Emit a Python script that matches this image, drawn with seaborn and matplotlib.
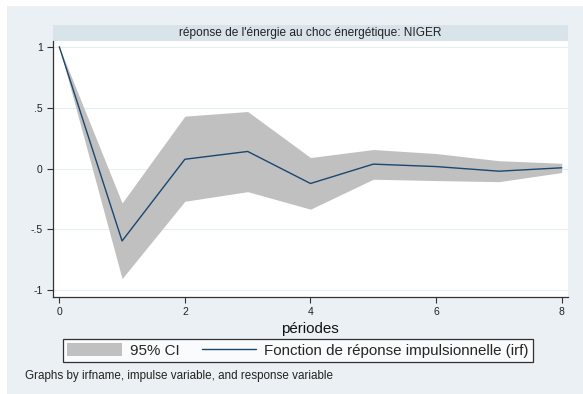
import matplotlib
matplotlib.use("Agg")
import matplotlib.pyplot as plt
from matplotlib.patches import Rectangle, Patch
from matplotlib.lines import Line2D
import seaborn as sns
import pandas as pd

# Impulse response of energy to an energy shock (Niger), with 95% CI
periods = [0, 1, 2, 3, 4, 5, 6, 7, 8]
irf = [1.0, -0.595, 0.076, 0.14, -0.123, 0.036, 0.016, -0.022, 0.006]
ci_lower = [1.0, -0.904, -0.269, -0.19, -0.334, -0.088, -0.099, -0.108, -0.033]
ci_upper = [1.0, -0.283, 0.43, 0.468, 0.090, 0.156, 0.123, 0.064, 0.043]
y_ticks = [-1, -0.5, 0, 0.5, 1]
y_tick_labels = ["-1", "-.5", "0", ".5", "1"]
x_ticks = [0, 2, 4, 6, 8]

title = "réponse de l'énergie au choc énergétique: NIGER"
x_label = "périodes"
legend_labels = ["95% CI", "Fonction de réponse impulsionnelle (irf)"]
note = "Graphs by irfname, impulse variable, and response variable"

df = pd.DataFrame({"step": periods, "irf": irf, "lo": ci_lower, "hi": ci_upper})

sns.set_theme(style="white")
plt.rcParams["font.family"] = ["Liberation Sans", "DejaVu Sans"]

W, H = 583, 394
fig = plt.figure(figsize=(W / 100, H / 100), dpi=100)
fig.patch.set_facecolor("white")

BG = "#eaf0f3"
STRIP = "#d9e3ea"
BAND = "#c0c0c0"
NAVY = "#1a476f"


def fx(px):
    return px / W


def fy(py):
    return 1 - py / H


# graph region background
fig.add_artist(Rectangle((fx(7), 0), 1 - fx(7), fy(6), transform=fig.transFigure,
                         facecolor=BG, edgecolor="none", zorder=-2))

left, right, top, bottom = 52.5, 568.3, 41, 297
ax = fig.add_axes([fx(left), fy(bottom), fx(right - left), (bottom - top) / H])
ax.set_facecolor("white")
ax.set_zorder(1)

# subplot title strip
fig.add_artist(Rectangle((fx(left), fy(top)), fx(right - left), (top - 25) / H,
                         transform=fig.transFigure, facecolor=STRIP,
                         edgecolor="none", zorder=-1))
fig.text(fx((left + right) / 2), fy(33), title, ha="center", va="center",
         fontsize=8.6, color="#222222")

ax.fill_between(df["step"], df["lo"], df["hi"], color=BAND, linewidth=0, zorder=2)
sns.lineplot(data=df, x="step", y="irf", ax=ax, color=NAVY, linewidth=1.0, zorder=3)

ax.set_xlim(-0.108, 8.105)
ax.set_ylim(-1.055, 1.047)
ax.set_yticks(y_ticks)
ax.set_yticklabels(y_tick_labels)
ax.set_xticks(x_ticks)
ax.grid(axis="y", color="#e6eef0", linewidth=0.8, zorder=1)
ax.set_axisbelow(True)

for s in ["top", "right"]:
    ax.spines[s].set_visible(False)
for s in ["left", "bottom"]:
    ax.spines[s].set_color("#333333")
    ax.spines[s].set_linewidth(0.9)

ax.tick_params(axis="both", which="major", length=4, width=0.8, color="#333333",
               labelsize=7.5, labelcolor="#222222", pad=3, left=True, bottom=True)
ax.set_xlabel(x_label, fontsize=10.9, color="#111111", labelpad=4)
ax.set_ylabel("")

handles = [Patch(facecolor=BAND, edgecolor="none"),
           Line2D([0], [0], color=NAVY, linewidth=1.0)]
leg = fig.legend(handles, legend_labels, loc="center",
                 bbox_to_anchor=(fx(298), fy(350.5)), ncol=2, fontsize=10.9,
                 frameon=True, fancybox=False, edgecolor="black", facecolor="white",
                 handlelength=3.6, handleheight=0.95, handletextpad=0.55,
                 columnspacing=1.45, borderpad=0.3, borderaxespad=0)
leg.get_frame().set_linewidth(0.9)
leg.set_zorder(3)

fig.text(fx(25), fy(376), note, ha="left", va="center", fontsize=8.4, color="#222222")

fig.savefig("out.png", dpi=100)
